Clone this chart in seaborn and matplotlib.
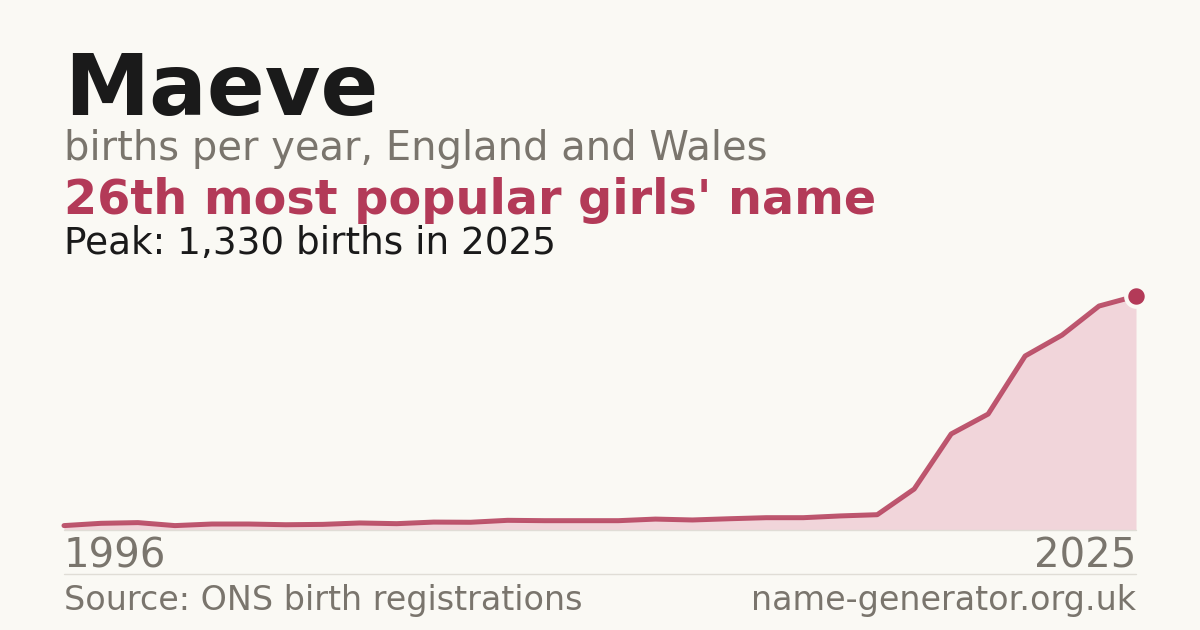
import matplotlib
matplotlib.use("Agg")
import matplotlib.pyplot as plt
import pandas as pd
import seaborn as sns

# Births per year for "Maeve", England and Wales
years = list(range(1996, 2026))
births = [25, 38, 42, 25, 34, 34, 30, 32, 40, 36,
          45, 44, 55, 53, 53, 53, 62, 57, 64, 70,
          70, 80, 87, 233, 546, 659, 989, 1108, 1273, 1330]

name = "Maeve"
subtitle = "births per year, England and Wales"
rank_text = "26th most popular girls' name"
peak_text = "Peak: 1,330 births in 2025"
source_text = "Source: ONS birth registrations"
site_text = "name-generator.org.uk"

BG = "#faf9f4"
ACCENT = "#b33a58"
FILL = "#f1d5da"
GREY = "#7a756d"
DARK = "#1a1a1a"
RULE = "#e0ddd6"

sns.set_theme(style="white")
plt.rcParams["font.family"] = ["DejaVu Sans"]

df = pd.DataFrame({"year": years, "births": births})

fig = plt.figure(figsize=(12, 6.3), dpi=100, facecolor=BG)
W, H = 1200, 630
ax = fig.add_axes([64 / W, 1 - 530 / H, (1136 - 64) / W, (530 - 296) / H])
ax.set_facecolor("none")

ax.fill_between(df["year"], df["births"], 0, color=FILL, lw=0, zorder=1)
sns.lineplot(data=df, x="year", y="births", ax=ax, color=ACCENT, linewidth=3.6,
             alpha=0.85, zorder=2, clip_on=False)
peak = df.iloc[[-1]]
sns.scatterplot(data=peak, x="year", y="births", ax=ax, color=ACCENT, s=220,
                edgecolor=BG, linewidth=3, zorder=3, clip_on=False, legend=False)

ax.set_xlim(years[0], years[-1])
ax.set_ylim(0, max(births))
ax.set_xticks([])
ax.set_yticks([])
ax.set_xlabel("")
ax.set_ylabel("")
sns.despine(ax=ax, left=True, top=True, right=True, bottom=True)

# baseline and footer rule
fig.add_artist(plt.Line2D([64 / W, 1136 / W], [1 - 530 / H] * 2, color=RULE, lw=1))
fig.add_artist(plt.Line2D([64 / W, 1136 / W], [1 - 574 / H] * 2, color=RULE, lw=1))

# header text
fig.text(64 / W, 1 - 115 / H, name, fontsize=61.6, fontweight="bold", color=DARK, va="baseline")
fig.text(64 / W, 1 - 160 / H, subtitle, fontsize=28.8, color=GREY, va="baseline")
fig.text(64 / W, 1 - 214 / H, rank_text, fontsize=34.4, fontweight="bold", color=ACCENT, va="baseline")
fig.text(64 / W, 1 - 254 / H, peak_text, fontsize=26.9, color=DARK, va="baseline")

# year labels
fig.text(64 / W, 1 - 568 / H, str(years[0]), fontsize=28.9, color=GREY, va="baseline")
fig.text(1136 / W, 1 - 568 / H, str(years[-1]), fontsize=28.9, color=GREY, va="baseline", ha="right")

# footer
fig.text(64 / W, 1 - 610 / H, source_text, fontsize=24, color=GREY, va="baseline")
fig.text(1136 / W, 1 - 610 / H, site_text, fontsize=24, color=GREY, va="baseline", ha="right")

fig.savefig("out.png", dpi=100, facecolor=BG)
